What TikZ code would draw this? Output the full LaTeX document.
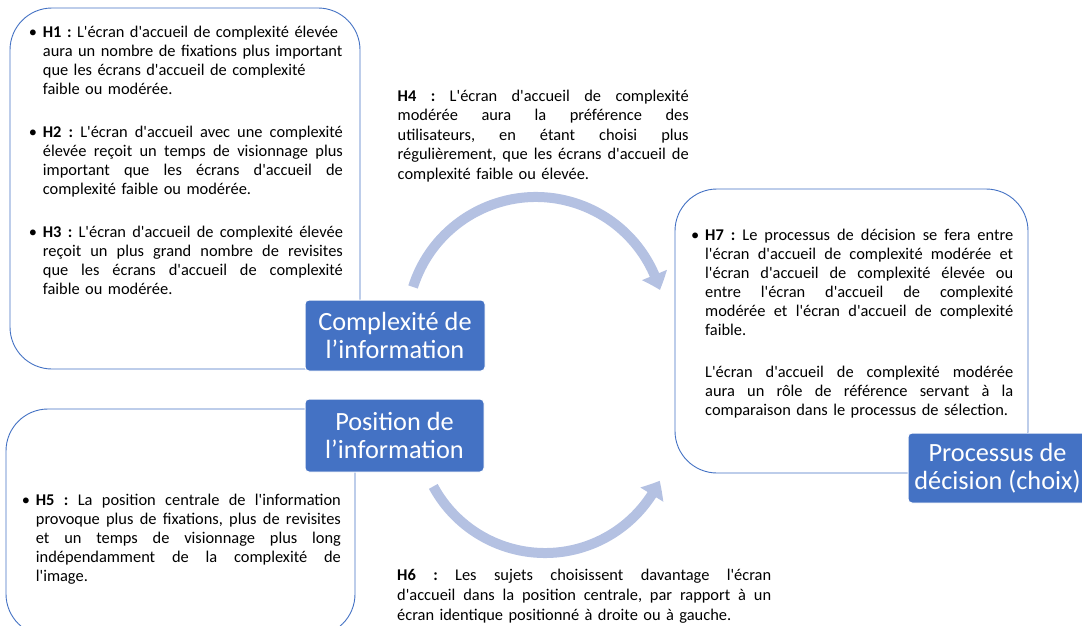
\documentclass[tikz,border=0pt]{standalone}
\usepackage{fontspec}
\newfontfamily\calib{Carlito}
\usetikzlibrary{arrows.meta,bending}
\definecolor{accent}{HTML}{4472C4}
\definecolor{arccol}{RGB}{180,193,226}
\def\jwid{300pt}
\newcommand\jl[1]{\leavevmode\hbox to \jwid{\frenchspacing\spaceskip=0.226em plus 1fil\relax #1}\\}
\newcommand\fs{\rule{0pt}{14pt}}
\newcommand\bul{\llap{\makebox[14pt][l]{•}}}
\begin{document}
\begin{tikzpicture}[x=1pt,y=1pt,
  hbox/.style={draw=accent, line width=0.9pt, rounded corners=42pt, fill=white, inner sep=0pt, outer sep=0pt},
  topic/.style={fill=accent, draw=white, line width=1pt, rounded corners=4pt, text=white,
    font=\calib\fontsize{26.3}{28}\selectfont, align=center, inner sep=0pt},
  hyp/.style={anchor=north west, inner sep=0pt, align=left, text width=420pt,
    font=\calib\fontsize{16.4}{19}\selectfont\frenchspacing},
  bendarrow/.style={draw=arccol, line width=10pt, -{Triangle[length=16pt,width=26pt,bend]}}]
\useasboundingbox (0,0) rectangle (1082,-626);

% hypothesis frames
\node[hbox, minimum width=350pt, minimum height=361pt] (b1) at (185,-188.5) {};
\node[hbox, minimum width=349pt, minimum height=227pt] (b2) at (180.5,-522.5) {};
\node[hbox, minimum width=353pt, minimum height=284pt] (b3) at (851.5,-331) {};

% curved arrows
\coordinate (c1) at (536,-326);
\coordinate (c2) at (545,-426);
\draw[bendarrow] ([shift={(162.4:129)}]c1) arc[start angle=162.4, end angle=16.2, radius=129];
\draw[bendarrow] ([shift={(208.4:127)}]c2) arc[start angle=208.4, end angle=334.5, radius=127];

% topic boxes
\node[topic, minimum width=180pt, minimum height=71pt] (cx) at (395,-335.5) {Complexité de\\l’information};
\node[topic, minimum width=179pt, minimum height=73pt] (pos) at (394.5,-435.5) {Position de\\l’information};
\node[topic, minimum width=179pt, minimum height=70pt] (dec) at (997.5,-468) {Processus de\\décision (choix)};

% texts
\node[hyp] (h1) at (42.7,-23) {\fs\bul\textbf{H1 :} L'écran d'accueil de complexité élevée\\
aura un nombre de fixations plus important\\
que les écrans d'accueil de complexité\\
faible ou modérée.};
\node[hyp] (h2) at (42.7,-123) {\def\jwid{300pt}%
\jl{\fs\bul\textbf{H2 :} L'écran d'accueil avec une complexité}
\jl{élevée reçoit un temps de visionnage plus}
\jl{important que les écrans d'accueil de}
complexité faible ou modérée.};
\node[hyp] (h3) at (42.7,-223) {\def\jwid{300pt}%
\jl{\fs\bul\textbf{H3 :} L'écran d'accueil de complexité élevée}
\jl{reçoit un plus grand nombre de revisites}
\jl{que les écrans d'accueil de complexité}
faible ou modérée.};
\node[hyp, font=\calib\fontsize{16.4}{19.5}\selectfont\frenchspacing] (h4) at (397.5,-87) {\def\jwid{291pt}%
\jl{\fs\textbf{H4 :} L'écran d'accueil de complexité}
\jl{modérée aura la préférence des}
\jl{utilisateurs, en étant choisi plus}
\jl{régulièrement, que les écrans d'accueil de}
complexité faible ou élevée.};
\node[hyp] (h7) at (705,-226) {\def\jwid{308pt}%
\jl{\fs\bul\textbf{H7 :} Le processus de décision se fera entre}
\jl{l'écran d'accueil de complexité modérée et}
\jl{l'écran d'accueil de complexité élevée ou}
\jl{entre l'écran d'accueil de complexité}
\jl{modérée et l'écran d'accueil de complexité}
faible.};
\node[hyp] (h7b) at (705,-363) {\def\jwid{308pt}%
\jl{\fs L'écran d'accueil de complexité modérée}
\jl{aura un rôle de référence servant à la}
comparaison dans le processus de sélection.};
\node[hyp] (h5) at (35.7,-491) {\def\jwid{305pt}%
\jl{\fs\bul\textbf{H5 :} La position centrale de l'information}
\jl{provoque plus de fixations, plus de revisites}
\jl{et un temps de visionnage plus long}
\jl{indépendamment de la complexité de}
l'image.};
\node[hyp, font=\calib\fontsize{16.4}{20}\selectfont\frenchspacing] (h6) at (397,-566) {\def\jwid{374pt}%
\jl{\fs\textbf{H6 :} Les sujets choisissent davantage l'écran}
\jl{d'accueil dans la position centrale, par rapport à un}
écran identique positionné à droite ou à gauche.};
\end{tikzpicture}
\end{document}
